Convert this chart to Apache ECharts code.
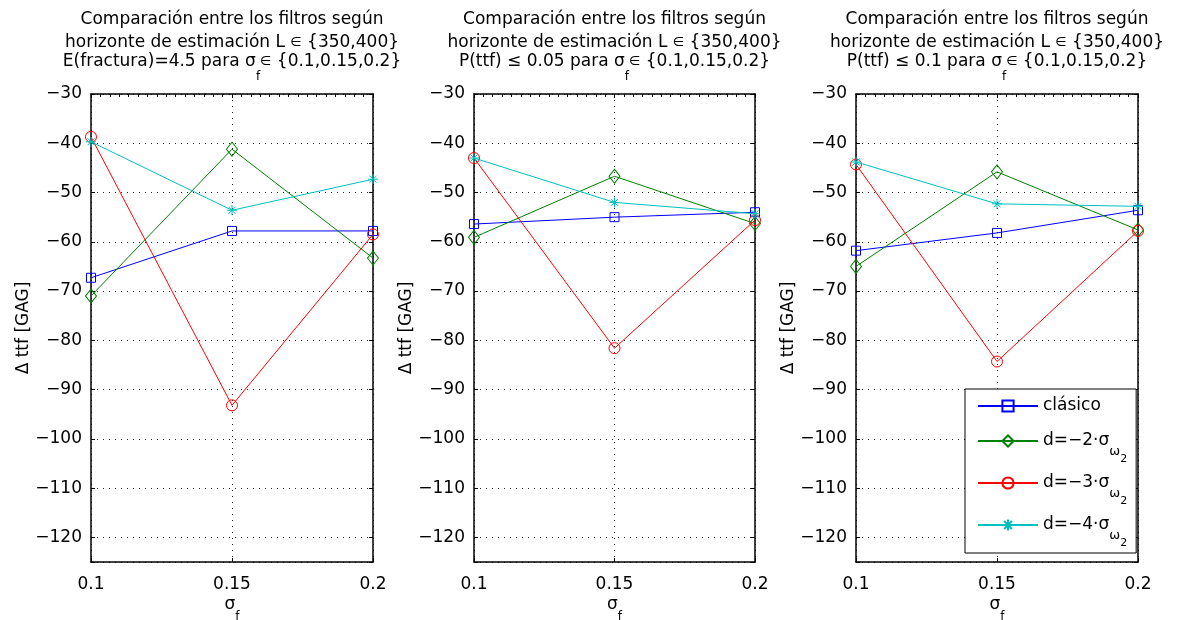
<!DOCTYPE html>
<html>
<head>
<meta charset="utf-8">
<script src="https://cdn.jsdelivr.net/npm/echarts@6/dist/echarts.min.js"></script>
<style>
  html, body { margin: 0; padding: 0; background: #fff; }
  #chart { width: 1180px; height: 620px; }
</style>
</head>
<body>
<div id="chart"></div>
<script>
// x positions: filter noise level sigma_f
const sigmaF = [0.1, 0.15, 0.2];

// Legend entries (base text; subscripts added by the legend formatter)
const seriesNames = ['clásico', 'd=−2·σ', 'd=−3·σ', 'd=−4·σ'];

// Panel titles
const titleTop = 'Comparación entre los filtros según\nhorizonte de estimación L {e|∈} {350,400}';
const titleCriteria = ['E(fractura)=4.5', 'P(ttf) ≤ 0.05', 'P(ttf) ≤ 0.1'];

// Δ ttf [GAG] — panel 1: E(fractura)=4.5
const clasicoA = [-67.3, -57.8, -57.8];
const d2A = [-71.0, -41.2, -63.3];
const d3A = [-38.7, -93.2, -58.5];
const d4A = [-39.7, -53.6, -47.3];

// panel 2: P(ttf) <= 0.05
const clasicoB = [-56.4, -55.0, -54.0];
const d2B = [-59.1, -46.7, -56.3];
const d3B = [-43.0, -81.6, -55.6];
const d4B = [-43.0, -52.0, -54.3];

// panel 3: P(ttf) <= 0.1
const clasicoC = [-61.8, -58.2, -53.6];
const d2C = [-65.0, -45.8, -57.6];
const d3C = [-44.3, -84.3, -57.8];
const d4C = [-43.8, -52.3, -52.8];

const panelData = [
  [clasicoA, d2A, d3A, d4A],
  [clasicoB, d2B, d3B, d4B],
  [clasicoC, d2C, d3C, d4C]
];

// ---- styling ----
const FONT = 'DejaVu Sans, Liberation Sans, Arial, sans-serif';
const FS = 17;
const colors = ['#0000ff', '#008000', '#ff0000', '#00bfbf'];
const symbols = [
  'rect',
  'diamond',
  'circle',
  'path://M5,0L5,10M0,5L10,5M1.5,1.5L8.5,8.5M1.5,8.5L8.5,1.5'
];
const symbolSizes = [9, [11, 14], 11, 10];

const grids = [
  { left: 91, top: 94, width: 282, height: 468, outerBoundsMode: 'none', containLabel: false },
  { left: 474, top: 94, width: 281, height: 468, outerBoundsMode: 'none', containLabel: false },
  { left: 856, top: 94, width: 282, height: 468, outerBoundsMode: 'none', containLabel: false }
];

const yMin = -125, yMax = -30;
const fmtY = v => (v % 10 === 0 ? String(v).replace('-', '\u2212') : '');

const xAxes = [], yAxes = [], series = [], titles = [];

grids.forEach((g, p) => {
  // bottom x axis with labels
  xAxes.push({
    type: 'value', gridIndex: p, position: 'bottom',
    min: 0.1, max: 0.2, interval: 0.05,
    name: 'σ{f|f}', nameLocation: 'middle', nameGap: 23, nameMoveOverlap: false,
    nameTextStyle: {
      color: '#000', fontSize: FS, fontFamily: FONT, lineHeight: 40,
      rich: { f: { fontSize: 12, lineHeight: 14, verticalAlign: 'top', padding: [26, 0, 0, 0], fontFamily: FONT, color: '#000' } }
    },
    axisLine: { show: true, onZero: false, lineStyle: { color: '#000', width: 1.5 } },
    axisTick: { show: true, inside: true, length: 4, lineStyle: { color: '#000' } },
    axisLabel: { color: '#000', fontSize: FS, fontFamily: FONT, margin: 14,
                 formatter: v => String(Math.round(v * 100) / 100) },
    splitLine: { show: true, lineStyle: { color: '#222', width: 1, type: [1, 5] } }
  });
  // top x axis (box edge)
  xAxes.push({
    type: 'value', gridIndex: p, position: 'top',
    min: 0.1, max: 0.2, interval: 0.05,
    axisLine: { show: true, onZero: false, lineStyle: { color: '#000', width: 1.5 } },
    axisTick: { show: true, inside: true, length: 4, lineStyle: { color: '#000' } },
    minorTick: { show: true, splitNumber: 15, length: 3, lineStyle: { color: '#000' } },
    axisLabel: { show: false },
    splitLine: { show: false }
  });
  // left y axis with labels
  yAxes.push({
    type: 'value', gridIndex: p, position: 'left',
    min: yMin, max: yMax, splitNumber: 10,
    name: 'Δ ttf [GAG]', nameLocation: 'middle', nameGap: 59, nameMoveOverlap: false,
    nameTextStyle: { color: '#000', fontSize: FS, fontFamily: FONT },
    axisLine: { show: true, onZero: false, lineStyle: { color: '#000', width: 1.5 } },
    axisTick: { show: true, inside: true, length: 4, lineStyle: { color: '#000' } },
    axisLabel: { color: '#000', fontSize: FS, fontFamily: FONT, margin: 9, formatter: fmtY },
    splitLine: { show: true, lineStyle: { color: '#222', width: 1, type: [1, 5] } }
  });
  // right y axis (box edge)
  yAxes.push({
    type: 'value', gridIndex: p, position: 'right',
    min: yMin, max: yMax, splitNumber: 10,
    axisLine: { show: true, onZero: false, lineStyle: { color: '#000', width: 1.5 } },
    axisTick: { show: true, inside: true, length: 4, lineStyle: { color: '#000' } },
    axisLabel: { show: false },
    splitLine: { show: false }
  });

  panelData[p].forEach((vals, s) => {
    series.push({
      type: 'line',
      name: seriesNames[s],
      xAxisIndex: 2 * p,
      yAxisIndex: 2 * p,
      data: sigmaF.map((x, i) => [x, vals[i]]),
      symbol: symbols[s],
      symbolSize: symbolSizes[s],
      showAllSymbol: true,
      lineStyle: { color: colors[s], width: 1 },
      itemStyle: { color: 'rgba(0,0,0,0)', borderColor: colors[s], borderWidth: 1 },
      emphasis: { disabled: true },
      z: 2 + s
    });
  });

  const cx = g.left + g.width / 2;
  titles.push({
    text: titleTop,
    left: cx, top: 8.5, padding: 0,
    textAlign: 'center', textVerticalAlign: 'top',
    textStyle: {
      color: '#000', fontSize: FS, fontWeight: 'normal', fontFamily: FONT, lineHeight: 23,
      rich: { e: { fontSize: 13, lineHeight: 23, fontFamily: FONT, color: '#000' } }
    }
  });
  titles.push({
    text: titleCriteria[p] + ' para σ{f|f}{e|∈} {0.1,0.15,0.2}',
    left: cx, top: 39, padding: 0,
    textAlign: 'center', textVerticalAlign: 'top',
    textStyle: {
      color: '#000', fontSize: FS, fontWeight: 'normal', fontFamily: FONT, lineHeight: 46,
      rich: {
        f: { fontSize: 12, lineHeight: 14, verticalAlign: 'top', padding: [32, 0, 0, 0], fontFamily: FONT, color: '#000' },
        e: { fontSize: 13, lineHeight: 46, fontFamily: FONT, color: '#000' }
      }
    }
  });
});

const chart = echarts.init(document.getElementById('chart'), null, { renderer: 'canvas' });
chart.setOption({
  animation: false,
  backgroundColor: '#fff',
  textStyle: { fontFamily: FONT },
  title: titles,
  grid: grids,
  xAxis: xAxes,
  yAxis: yAxes,
  legend: {
    left: 965, top: 389,
    orient: 'vertical',
    data: seriesNames,
    selectedMode: false,
    itemWidth: 60, itemHeight: 14, itemGap: 9,
    padding: [8, 9, 4, 12],
    backgroundColor: '#fff',
    borderColor: '#000', borderWidth: 1, borderRadius: 0,
    formatter: name => name === 'clásico' ? '{m|' + name + '}{z| }' : '{m|' + name + '}{w|ω}{t|2}',
    textStyle: {
      color: '#000', fontSize: FS, fontFamily: FONT,
      rich: {
        m: { fontSize: FS, lineHeight: 18, verticalAlign: 'top', fontFamily: FONT, color: '#000' },
        z: { fontSize: 11, lineHeight: 10, verticalAlign: 'top', padding: [15, 0, 0, 0], fontFamily: FONT, color: '#000' },
        w: { fontSize: 13, lineHeight: 14, verticalAlign: 'top', padding: [13, 0, 0, 0], fontFamily: FONT, color: '#000' },
        t: { fontSize: 11, lineHeight: 10, verticalAlign: 'top', padding: [22, 0, 0, 0], fontFamily: FONT, color: '#000' }
      }
    }
  },
  series: series
});
</script>
</body>
</html>
